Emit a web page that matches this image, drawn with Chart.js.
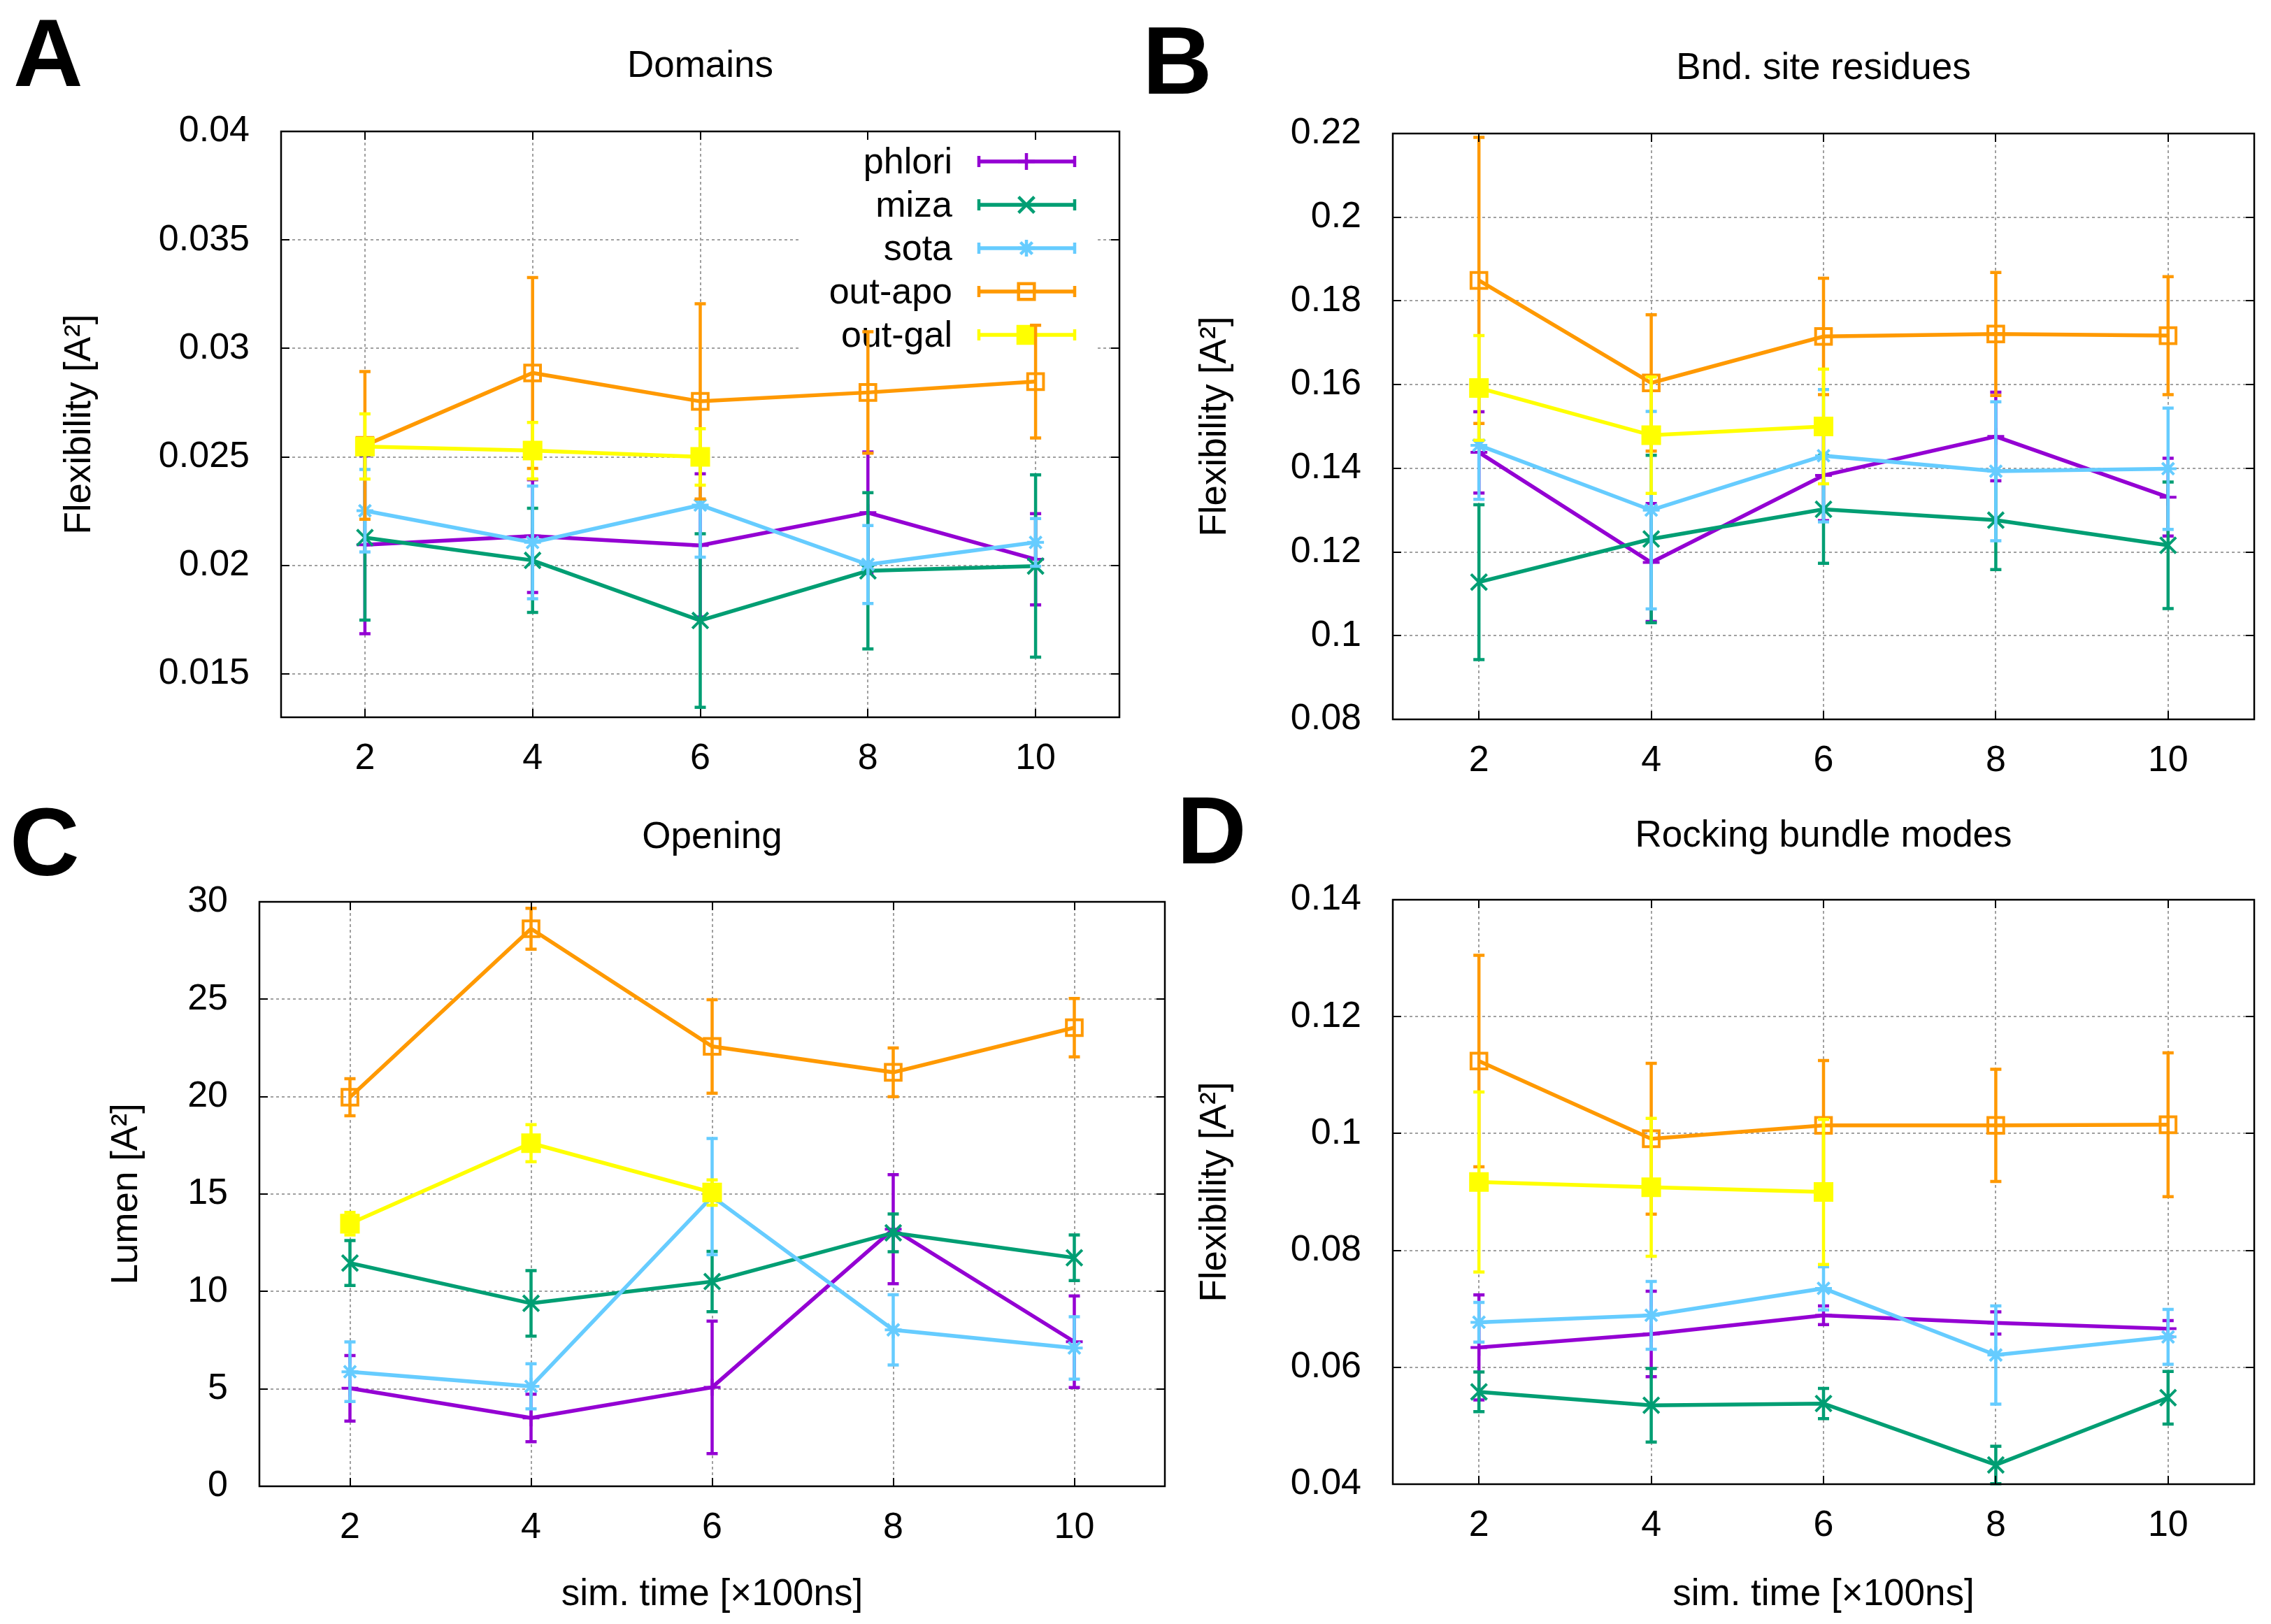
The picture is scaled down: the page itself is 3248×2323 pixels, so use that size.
<!DOCTYPE html>
<html>
<head>
<meta charset="utf-8">
<script src="https://cdn.jsdelivr.net/npm/chart.js@4.4.1/dist/chart.umd.min.js"></script>
<style>
  html, body { margin: 0; padding: 0; background: #fff; }
  body { width: 3248px; height: 2323px; position: relative; overflow: hidden; }
  canvas { position: absolute; }
</style>
</head>
<body>
<canvas id="chartA" width="1624" height="1160" style="left:0px;top:0px"></canvas>
<canvas id="chartB" width="1624" height="1160" style="left:1624px;top:0px"></canvas>
<canvas id="chartD" width="1624" height="1233" style="left:1624px;top:1090px"></canvas>
<canvas id="chartC" width="1700" height="1233" style="left:0px;top:1090px"></canvas>
<script>
// series shared by all four panels
const seriesNames = ['phlori', 'miza', 'sota', 'out-apo', 'out-gal'];
const seriesColors = ['#9400d3', '#009e73', '#66ccff', '#ff9900', '#ffff00'];
const simTimes = [2, 4, 6, 8, 10];

// A - Domains
const domainsTicks = [0.015, 0.02, 0.025, 0.03, 0.035, 0.04];
const domainsMean = [
  [0.02095, 0.02135, 0.02092, 0.02243, 0.02028],
  [0.02128, 0.02023, 0.01746, 0.01975, 0.01997],
  [0.02252, 0.02106, 0.02278, 0.02004, 0.02106],
  [0.02553, 0.02887, 0.02756, 0.02797, 0.02847],
  [0.02548, 0.02529, 0.02500]
];
const domainsErr = [
  [0.0041, 0.0026, 0.0033, 0.0028, 0.0021],
  [0.0038, 0.0024, 0.0040, 0.0036, 0.0042],
  [0.0019, 0.0026, 0.0024, 0.0018, 0.0011],
  [0.0034, 0.0044, 0.0045, 0.0028, 0.0026],
  [0.0015, 0.0013, 0.0013]
];

// B - Bnd. site residues
const bndTicks = [0.08, 0.1, 0.12, 0.14, 0.16, 0.18, 0.2, 0.22];
const bndMean = [
  [0.1438, 0.1175, 0.1383, 0.1476, 0.1331],
  [0.1128, 0.1231, 0.1302, 0.1276, 0.1216],
  [0.1455, 0.1300, 0.1430, 0.1393, 0.1399],
  [0.1849, 0.1604, 0.1715, 0.1721, 0.1717],
  [0.1592, 0.1479, 0.1500]
];
const bndErr = [
  [0.0097, 0.0141, 0.0108, 0.0106, 0.0093],
  [0.0185, 0.0200, 0.0129, 0.0118, 0.0151],
  [0.0129, 0.0236, 0.0158, 0.0166, 0.0145],
  [0.0342, 0.0163, 0.0139, 0.0147, 0.0141],
  [0.0125, 0.0139, 0.0137]
];

// C - Opening
const openingTicks = [0, 5, 10, 15, 20, 25, 30];
const openingMean = [
  [5.03, 3.51, 5.08, 13.2, 7.42],
  [11.46, 9.39, 10.51, 13.01, 11.73],
  [5.88, 5.13, 14.87, 8.03, 7.10],
  [19.97, 28.62, 22.58, 21.25, 23.54],
  [13.48, 17.61, 15.08]
];
const openingErr = [
  [1.68, 1.22, 3.40, 2.80, 2.35],
  [1.15, 1.68, 1.55, 0.97, 1.17],
  [1.53, 1.16, 2.98, 1.80, 1.60],
  [0.95, 1.05, 2.40, 1.25, 1.50],
  [0.58, 0.95, 0.65]
];

// D - Rocking bundle modes
const rockingTicks = [0.04, 0.06, 0.08, 0.1, 0.12, 0.14];
const rockingMean = [
  [0.0634, 0.0657, 0.0689, 0.0676, 0.0666],
  [0.0558, 0.0535, 0.0538, 0.0433, 0.0548],
  [0.0677, 0.0689, 0.0735, 0.0621, 0.0652],
  [0.1124, 0.0991, 0.1014, 0.1014, 0.1015],
  [0.0917, 0.0908, 0.0900]
];
const rockingErr = [
  [0.0090, 0.0073, 0.0016, 0.0019, 0.0014],
  [0.0034, 0.0063, 0.0026, 0.0032, 0.0045],
  [0.0034, 0.0058, 0.0037, 0.0084, 0.0047],
  [0.0181, 0.0129, 0.0111, 0.0096, 0.0123],
  [0.0154, 0.0118, 0.0124]
];

const FONT = '"Liberation Sans", Arial, Helvetica, sans-serif';
const markers = [
  { style: 'cross', r: 12 },
  { style: 'crossRot', r: 16 },
  { style: 'star', r: 12 },
  { style: 'rect', r: 16, hollow: true },
  { style: 'rect', r: 17 }
];

Chart.defaults.font.family = FONT;
Chart.defaults.font.size = 52;
Chart.defaults.color = '#000';

function fmt(v) {
  return String(parseFloat(v.toFixed(4)));
}

function drawLegend(ctx) {
  ctx.save();
  ctx.fillStyle = '#fff';
  ctx.fillRect(1143, 193, 427, 315);
  ctx.font = '52px ' + FONT;
  ctx.textAlign = 'right';
  ctx.textBaseline = 'alphabetic';
  seriesNames.forEach((name, k) => {
    const yy = 231 + k * 62;
    ctx.fillStyle = '#000';
    ctx.fillText(name, 1362, yy + 17);
    ctx.strokeStyle = seriesColors[k];
    ctx.lineWidth = 5.5;
    ctx.beginPath(); ctx.moveTo(1398, yy); ctx.lineTo(1539, yy); ctx.stroke();
    ctx.lineWidth = 4.5;
    ctx.beginPath();
    ctx.moveTo(1400, yy - 8); ctx.lineTo(1400, yy + 8);
    ctx.moveTo(1537, yy - 8); ctx.lineTo(1537, yy + 8);
    ctx.stroke();
    const m = markers[k];
    ctx.fillStyle = m.hollow ? 'rgba(0,0,0,0)' : seriesColors[k];
    Chart.helpers.drawPoint(ctx, { pointStyle: m.style, radius: m.r, borderWidth: 4, rotation: 0 }, 1468, yy);
  });
  ctx.restore();
}

function panelPlugin(p) {
  return {
    id: 'panel' + p.letter,
    beforeDatasetsDraw(chart) {
      const { ctx, chartArea: a, scales: { x, y } } = chart;
      ctx.save();
      ctx.strokeStyle = '#a0a0a0';
      ctx.lineWidth = 2;
      ctx.setLineDash([4, 4]);
      ctx.beginPath();
      simTimes.forEach(v => {
        const px = Math.round(x.getPixelForValue(v));
        ctx.moveTo(px, a.top); ctx.lineTo(px, a.bottom);
      });
      p.yTicks.forEach(v => {
        const py = Math.round(y.getPixelForValue(v));
        if (py <= a.top + 2 || py >= a.bottom - 2) return;
        ctx.moveTo(a.left, py); ctx.lineTo(a.right, py);
      });
      ctx.stroke();
      ctx.restore();
      if (p.legend) drawLegend(ctx);
    },
    beforeDatasetDraw(chart, args) {
      const ds = chart.data.datasets[args.index];
      const y = chart.scales.y;
      const ctx = chart.ctx;
      ctx.save();
      ctx.strokeStyle = ds.borderColor;
      ctx.lineWidth = 4.5;
      ctx.beginPath();
      args.meta.data.forEach((pt, i) => {
        const v = ds.data[i].y, e = ds.err[i];
        const top = y.getPixelForValue(v + e), bot = y.getPixelForValue(v - e);
        ctx.moveTo(pt.x, top); ctx.lineTo(pt.x, bot);
        ctx.moveTo(pt.x - 8, top); ctx.lineTo(pt.x + 8, top);
        ctx.moveTo(pt.x - 8, bot); ctx.lineTo(pt.x + 8, bot);
      });
      ctx.stroke();
      ctx.restore();
    },
    afterDraw(chart) {
      const { ctx, chartArea: a, scales: { x, y } } = chart;
      ctx.save();
      // frame and mirrored inward ticks
      ctx.strokeStyle = '#000';
      ctx.lineWidth = 2.5;
      ctx.strokeRect(a.left, a.top, a.right - a.left, a.bottom - a.top);
      ctx.lineWidth = 2;
      ctx.beginPath();
      simTimes.forEach(v => {
        const px = Math.round(x.getPixelForValue(v));
        ctx.moveTo(px, a.bottom); ctx.lineTo(px, a.bottom - 12);
        ctx.moveTo(px, a.top); ctx.lineTo(px, a.top + 12);
      });
      p.yTicks.forEach(v => {
        const py = Math.round(y.getPixelForValue(v));
        ctx.moveTo(a.left, py); ctx.lineTo(a.left + 12, py);
        ctx.moveTo(a.right, py); ctx.lineTo(a.right - 12, py);
      });
      ctx.stroke();

      ctx.fillStyle = '#000';
      // panel letter
      ctx.font = 'bold 138px ' + FONT;
      ctx.textAlign = 'left';
      ctx.textBaseline = 'alphabetic';
      ctx.fillText(p.letter, p.letterX, p.letterY);
      // title
      const cx = (a.left + a.right) / 2;
      ctx.font = '53px ' + FONT;
      ctx.textAlign = 'center';
      ctx.fillText(p.title, cx, p.titleY);
      // x axis title
      if (p.xTitle) ctx.fillText(p.xTitle, cx, p.xTitleY);
      // y axis title
      ctx.translate(p.yTitleX, (a.top + a.bottom) / 2);
      ctx.rotate(-Math.PI / 2);
      ctx.textBaseline = 'middle';
      ctx.fillText(p.yTitle, 0, 0);
      ctx.restore();
    }
  };
}

function makeChart(id, p) {
  const datasets = seriesNames.map((name, k) => ({
    label: name,
    data: p.mean[k].map((v, i) => ({ x: simTimes[i], y: v })),
    err: p.err[k],
    borderColor: seriesColors[k],
    backgroundColor: seriesColors[k],
    pointBackgroundColor: markers[k].hollow ? 'rgba(0,0,0,0)' : seriesColors[k],
    pointBorderColor: seriesColors[k],
    pointStyle: markers[k].style,
    pointRadius: markers[k].r,
    pointBorderWidth: 4,
    borderWidth: 5.5,
    tension: 0,
    fill: false,
    clip: false,
    order: 4 - k
  }));

  return new Chart(document.getElementById(id), {
    type: 'line',
    data: { datasets: datasets },
    options: {
      responsive: false,
      animation: false,
      devicePixelRatio: 1,
      events: [],
      layout: { padding: { left: 0, top: p.padTop, right: p.padRight, bottom: 0 } },
      plugins: { legend: { display: false }, title: { display: false }, tooltip: { enabled: false } },
      scales: {
        x: {
          type: 'linear',
          min: 1,
          max: 11,
          grid: { display: false },
          border: { display: false },
          afterBuildTicks: s => { s.ticks = simTimes.map(v => ({ value: v })); },
          afterFit: s => { s.height = p.xHeight; },
          ticks: { padding: 20, maxRotation: 0, callback: v => fmt(v), font: { size: 52 } }
        },
        y: {
          type: 'linear',
          min: p.yMin,
          max: p.yMax,
          grid: { display: false },
          border: { display: false },
          afterBuildTicks: s => { s.ticks = p.yTicks.map(v => ({ value: v })); },
          afterFit: s => { s.width = p.yWidth; },
          ticks: { padding: 37, callback: v => fmt(v), font: { size: 52 } }
        }
      }
    },
    plugins: [panelPlugin(p)]
  });
}

makeChart('chartA', {
  letter: 'A', letterX: 19, letterY: 123,
  title: 'Domains', titleY: 110,
  yTitle: 'Flexibility [A\u00b2]', yTitleX: 114,
  mean: domainsMean, err: domainsErr,
  yMin: 0.013, yMax: 0.04, yTicks: domainsTicks,
  padTop: 188, padRight: 23, yWidth: 402, xHeight: 134,
  legend: true
});

makeChart('chartB', {
  letter: 'B', letterX: 10, letterY: 134,
  title: 'Bnd. site residues', titleY: 113,
  yTitle: 'Flexibility [A\u00b2]', yTitleX: 114,
  mean: bndMean, err: bndErr,
  yMin: 0.08, yMax: 0.22, yTicks: bndTicks,
  padTop: 191, padRight: 24, yWidth: 368, xHeight: 131
});

makeChart('chartC', {
  letter: 'C', letterX: 14, letterY: 162,
  title: 'Opening', titleY: 123,
  yTitle: 'Lumen [A\u00b2]', yTitleX: 181,
  xTitle: 'sim. time [\u00d7100ns]', xTitleY: 1206,
  mean: openingMean, err: openingErr,
  yMin: 0, yMax: 30, yTicks: openingTicks,
  padTop: 200, padRight: 34, yWidth: 371, xHeight: 197
});

makeChart('chartD', {
  letter: 'D', letterX: 59, letterY: 145,
  title: 'Rocking bundle modes', titleY: 121,
  yTitle: 'Flexibility [A\u00b2]', yTitleX: 114,
  xTitle: 'sim. time [\u00d7100ns]', xTitleY: 1206,
  mean: rockingMean, err: rockingErr,
  yMin: 0.04, yMax: 0.14, yTicks: rockingTicks,
  padTop: 197, padRight: 24, yWidth: 368, xHeight: 200
});
</script>
</body>
</html>
